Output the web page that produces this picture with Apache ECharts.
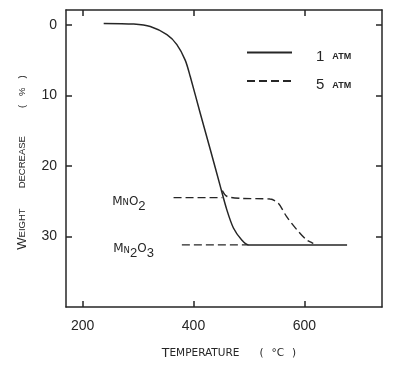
<!DOCTYPE html>
<html><head><meta charset="utf-8">
<script src="https://cdn.jsdelivr.net/npm/echarts@6/dist/echarts.min.js"></script>
<style>html,body{margin:0;padding:0;background:#fff}#c{width:393px;height:365px}</style>
</head><body><div id="c"></div>
<script>
// ---- data ----
const temp1atm = [238, 292, 322, 352, 370, 385, 394, 412, 430, 448, 460, 472, 487, 499, 677];
const wd1atm   = [-0.2, -0.1, 0.25, 1.4, 2.8, 5.0, 7.3, 12.5, 17.6, 22.8, 26.2, 28.8, 30.5, 31.2, 31.2];
const temp5atm = [452, 460, 484, 538, 553, 568, 586, 604, 614, 616];
const wd5atm   = [23.5, 24.3, 24.6, 24.7, 25.3, 27.2, 29.0, 30.5, 30.9, 31.0];
const mno2Temps = [364, 452];
const mno2Level = 24.5;
const mn2o3Temps = [379, 499];
const mn2o3Level = 31.2;
const xTicks = [200, 400, 600];
const yTicks = [0, 10, 20, 30];

const INK = '#262626';
const NUMFONT = '"Liberation Sans Narrow","Liberation Sans",sans-serif';
const CAPFONT = '"DejaVu Sans","Liberation Sans",sans-serif';

function pairs(xs, ys) { return xs.map((x, i) => [x, ys[i]]); }

const chart = echarts.init(document.getElementById('c'), null, {renderer: 'canvas'});

const axisCommon = {
  type: 'value',
  axisLine: {show: true, onZero: false, lineStyle: {color: INK, width: 1.5}},
  splitLine: {show: false},
};

const subRich = {
  M: {fontFamily: CAPFONT, fontSize: 12, color: INK, verticalAlign: 'bottom', lineHeight: 12, padding: [0,0,5,0]},
  n: {fontFamily: CAPFONT, fontSize: 8.5, color: INK, verticalAlign: 'bottom', lineHeight: 9, padding: [0,0,5,0]},
  d: {fontFamily: NUMFONT, fontSize: 13, color: INK, verticalAlign: 'bottom', lineHeight: 12, padding: [0,0,0,0]}
};

function refSeries(name, xs, level, text) {
  return {
    name: name, type: 'line', data: xs.map(x => [x, level]), symbol: 'none', silent: true,
    lineStyle: {color: INK, width: 1.3, type: [8, 4]},
    markPoint: {
      symbol: 'circle', symbolSize: 0, silent: true,
      itemStyle: {color: 'rgba(0,0,0,0)'},
      label: {show: true, position: 'left', distance: 28, offset: [0, 9], formatter: text, rich: subRich, color: INK},
      data: [{coord: [xs[0], level]}]
    }
  };
}

function legendOf(name, top, num) {
  return {
    data: [name], left: 246, top: top, padding: 0, itemWidth: 45, itemHeight: 14,
    itemStyle: {color: 'rgba(0,0,0,0)', borderWidth: 0, opacity: 0},
    formatter: () => '{n|' + num + '}{g|}{s|ATM}',
    textStyle: {padding: [8, 0, 0, 19], rich: {
      n: {fontFamily: NUMFONT, fontSize: 15, color: INK},
      g: {width: 8},
      s: {fontFamily: '"Liberation Sans",sans-serif', fontSize: 9, color: INK, fontWeight: 'bold'}
    }}
  };
}

chart.setOption({
  animation: false,
  backgroundColor: '#ffffff',
  grid: {left: 66, top: 10, right: 11, bottom: 58},
  legend: [legendOf('1 atm', 47, '1'), legendOf('5 atm', 75.5, '5')],
  xAxis: [
    Object.assign({}, axisCommon, {
      position: 'bottom', min: 170, max: 740,
      axisTick: {show: true, inside: true, length: 6, customValues: xTicks, lineStyle: {color: INK, width: 1.5}},
      axisLabel: {show: true, customValues: xTicks, margin: 12, fontFamily: NUMFONT, fontSize: 14, color: INK},
      name: '{b|T}{s|EMPERATURE}{g|}{s|(}{h|}{s|°C}{h|}{s|)}',
      nameLocation: 'middle', nameGap: 40,
      nameTextStyle: {padding: [0, 0, 0, 10], rich: {
        b: {fontFamily: CAPFONT, fontSize: 12.5, color: INK},
        s: {fontFamily: CAPFONT, fontSize: 10.5, color: INK},
        g: {width: 20}, h: {width: 8}
      }}
    }),
    Object.assign({}, axisCommon, {
      position: 'top', min: 170, max: 740,
      axisTick: {show: true, inside: true, length: 6, customValues: xTicks, lineStyle: {color: INK, width: 1.5}},
      axisLabel: {show: false}
    })
  ],
  yAxis: [
    Object.assign({}, axisCommon, {
      position: 'left', min: -2.1, max: 40, inverse: true,
      axisTick: {show: true, inside: true, length: 6, customValues: yTicks, lineStyle: {color: INK, width: 1.5}},
      axisLabel: {show: true, customValues: yTicks, margin: 9, fontFamily: NUMFONT, fontSize: 14, color: INK},
      name: '{b|W}{s|EIGHT}{g|}{s|DECREASE}{g2|}{s|(}{h|}{s|%}{h|}{s|)}',
      nameLocation: 'middle', nameGap: 37, nameRotate: 90,
      nameTextStyle: {padding: [0, 8, 0, 0], rich: {
        b: {fontFamily: NUMFONT, fontSize: 13, color: INK},
        s: {fontFamily: NUMFONT, fontSize: 9.5, color: INK},
        g: {width: 20}, g2: {width: 28}, h: {width: 9}
      }}
    }),
    Object.assign({}, axisCommon, {
      position: 'right', min: -2.1, max: 40, inverse: true,
      axisTick: {show: true, inside: true, length: 6, customValues: yTicks, lineStyle: {color: INK, width: 1.5}},
      axisLabel: {show: false}
    })
  ],
  series: [
    {
      name: '1 atm', type: 'line', data: pairs(temp1atm, wd1atm), symbol: 'none',
      smooth: 0.3,
      lineStyle: {color: INK, width: 1.5, type: 'solid'}, itemStyle: {color: INK}
    },
    {
      name: '5 atm', type: 'line', data: pairs(temp5atm, wd5atm), symbol: 'none',
      smooth: 0.3,
      lineStyle: {color: INK, width: 1.4, type: [8, 4]}, itemStyle: {color: INK}
    },
    refSeries('MnO2 level', mno2Temps, mno2Level, '{M|M}{n|N}{M|O}{d|2}'),
    refSeries('Mn2O3 level', mn2o3Temps, mn2o3Level, '{M|M}{n|N}{d|2}{M|O}{d|3}')
  ]
});
</script>
</body></html>
